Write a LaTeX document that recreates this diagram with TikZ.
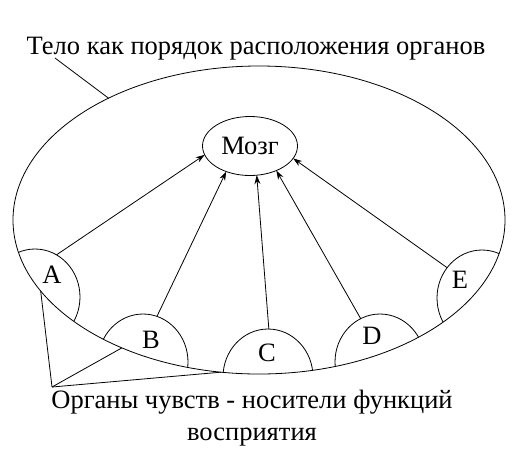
\documentclass[tikz,border=0pt]{standalone}
\usepackage{fontspec}
\setmainfont{Liberation Serif}
\usetikzlibrary{
  arrows.meta,
  shapes.geometric,
  positioning
}
\newcommand{\diafont}{\fontsize{26.5}{32}\selectfont}
\tikzset{
  bodynode/.style={
    draw, ellipse, minimum width=492pt, minimum height=308pt,
    inner sep=0pt, outer sep=0pt
  },
  brainnode/.style={draw, ellipse, minimum width=95pt, minimum height=59pt,
    inner sep=0pt, outer sep=0pt, font=\diafont},
  organ/.style={draw, ellipse, minimum width=90pt, minimum height=96pt,
    inner sep=0pt, outer sep=0pt},
  organlbl/.style={font=\diafont, inner sep=0pt},
  caption/.style={font=\diafont, align=center, inner sep=0pt},
  sense/.style={-{Stealth[length=9pt, width=6pt]}, line width=0.8pt},
  leader/.style={line width=0.8pt}
}
\begin{document}
\begin{tikzpicture}[x=1pt, y=-1pt, line width=0.8pt]
  \useasboundingbox (0,0) rectangle (518,448);
  \node[bodynode] (body) at (259,220) {};
  \node[brainnode] (brain) at (250,146) {Мозг};
  % sense organs, cut off by the body outline
  \begin{scope}
    \clip (259,220) ellipse [x radius=246pt, y radius=154pt];
    \node[organ] (oA) at (35,297) {};
    \node[organ] (oB) at (143,362) {};
    \node[organ] (oC) at (268,377) {};
    \node[organ] (oD) at (380,362) {};
    \node[organ] (oE) at (482,298) {};
  \end{scope}
  \node[organlbl] (lA) at (52,275) {A};
  \node[organlbl] (lB) at (151,340) {B};
  \node[organlbl] (lC) at (267,353) {C};
  \node[organlbl] (lD) at (372,336) {D};
  \node[organlbl] (lE) at (460,280) {E};
  \draw[sense] (oA.63) -- (brain.191);
  \draw[sense] (oB.73) -- (brain.227);
  \draw[sense] (oC.89) -- (brain.283);
  \draw[sense] (oD.114) -- (brain.317);
  \draw[sense] (oE.139) -- (brain.344);
  % captions
  \node[caption, anchor=base] (title) at (256,54) {Тело как порядок расположения органов};
  \coordinate (titletip) at (55,58);
  \draw[leader] (titletip) -- (body.141.7);
  \node[caption, anchor=north] (organs) at (252,390) {Органы чувств - носители функций\\восприятия};
  \coordinate (sensetip) at (52,387);
  \draw[leader] (sensetip) -- (body.198);
  \draw[leader] (sensetip) -- (body.223.7);
  \draw[leader] (sensetip) -- (body.256.3);
\end{tikzpicture}
\end{document}
